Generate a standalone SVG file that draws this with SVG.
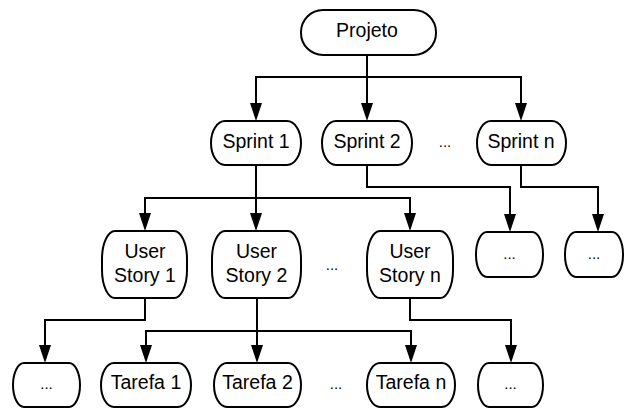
<svg xmlns="http://www.w3.org/2000/svg" width="624" height="408" viewBox="0 0 624 408">
<style>
.box{fill:#fff;stroke:#000;stroke-width:2}
.t{font-family:"Liberation Sans",Arial,sans-serif;font-size:19.5px;fill:#000;text-anchor:middle}
.d{font-family:"Liberation Sans",Arial,sans-serif;font-size:15px;fill:#000;text-anchor:middle}
.c{fill:none;stroke:#000;stroke-width:2;marker-end:url(#ah)}
</style>
<defs>
<marker id="ah" viewBox="0 0 18 12" refX="8" refY="6" markerWidth="18" markerHeight="12" markerUnits="userSpaceOnUse" orient="auto">
<path d="M0,0 L18,6 L0,12 z" fill="#000"/>
</marker>
</defs>
<rect width="624" height="408" fill="#fff"/>
<g id="connectors">
<path class="c" d="M367,55 V77 H256 V111"/>
<path class="c" d="M367,55 V111"/>
<path class="c" d="M367,77 H521 V111"/>
<path class="c" d="M256,165 V198 H145 V221"/>
<path class="c" d="M256,165 V221"/>
<path class="c" d="M256,198 H410 V221"/>
<path class="c" d="M367,165 V187 H510 V222"/>
<path class="c" d="M521,165 V187 H598 V222"/>
<path class="c" d="M145,298 V320 H45 V353"/>
<path class="c" d="M257,298 V353"/>
<path class="c" d="M257,331 H146 V353"/>
<path class="c" d="M257,331 H411 V353"/>
<path class="c" d="M410,298 V320 H511 V353"/>
</g>
<g id="projeto"><rect class="box" x="301" y="10" width="135" height="45" rx="22" ry="22"/><text class="t" x="367" y="37">Projeto</text></g>
<g id="sprint1"><rect class="box" x="211" y="121" width="90" height="44" rx="14" ry="22"/><text class="t" x="256" y="148">Sprint 1</text></g>
<g id="sprint2"><rect class="box" x="322" y="121" width="90" height="44" rx="14" ry="22"/><text class="t" x="367" y="148">Sprint 2</text></g>
<g id="sprint-dots"><text class="d" x="445" y="147">...</text></g>
<g id="sprintn"><rect class="box" x="477" y="121" width="89" height="44" rx="14" ry="22"/><text class="t" x="521" y="148">Sprint n</text></g>
<g id="us1"><rect class="box" x="102" y="231" width="85" height="67" rx="13" ry="28"/><text class="t" x="145" y="258">User</text><text class="t" x="145" y="282">Story 1</text></g>
<g id="us2"><rect class="box" x="212" y="231" width="89" height="67" rx="13" ry="28"/><text class="t" x="256.5" y="258">User</text><text class="t" x="256.5" y="282">Story 2</text></g>
<g id="us-dots"><text class="d" x="332" y="270">...</text></g>
<g id="usn"><rect class="box" x="367" y="231" width="86" height="67" rx="13" ry="28"/><text class="t" x="410" y="258">User</text><text class="t" x="410" y="282">Story n</text></g>
<g id="s2-more"><rect class="box" x="476" y="232" width="67" height="45" rx="11" ry="22"/><text class="d" x="509.5" y="259">...</text></g>
<g id="sn-more"><rect class="box" x="565" y="232" width="58" height="45" rx="11" ry="22"/><text class="d" x="594" y="259">...</text></g>
<g id="us1-more"><rect class="box" x="13" y="363" width="67" height="44" rx="11" ry="22"/><text class="d" x="46.5" y="389">...</text></g>
<g id="tarefa1"><rect class="box" x="101" y="363" width="90" height="44" rx="13" ry="22"/><text class="t" x="146" y="389">Tarefa 1</text></g>
<g id="tarefa2"><rect class="box" x="214" y="363" width="87" height="44" rx="13" ry="22"/><text class="t" x="257.5" y="389">Tarefa 2</text></g>
<g id="tarefa-dots"><text class="d" x="336" y="389">...</text></g>
<g id="tarefan"><rect class="box" x="367" y="363" width="88" height="44" rx="13" ry="22"/><text class="t" x="411" y="389">Tarefa n</text></g>
<g id="usn-more"><rect class="box" x="478" y="363" width="65" height="44" rx="11" ry="22"/><text class="d" x="510.5" y="389">...</text></g>
</svg>
